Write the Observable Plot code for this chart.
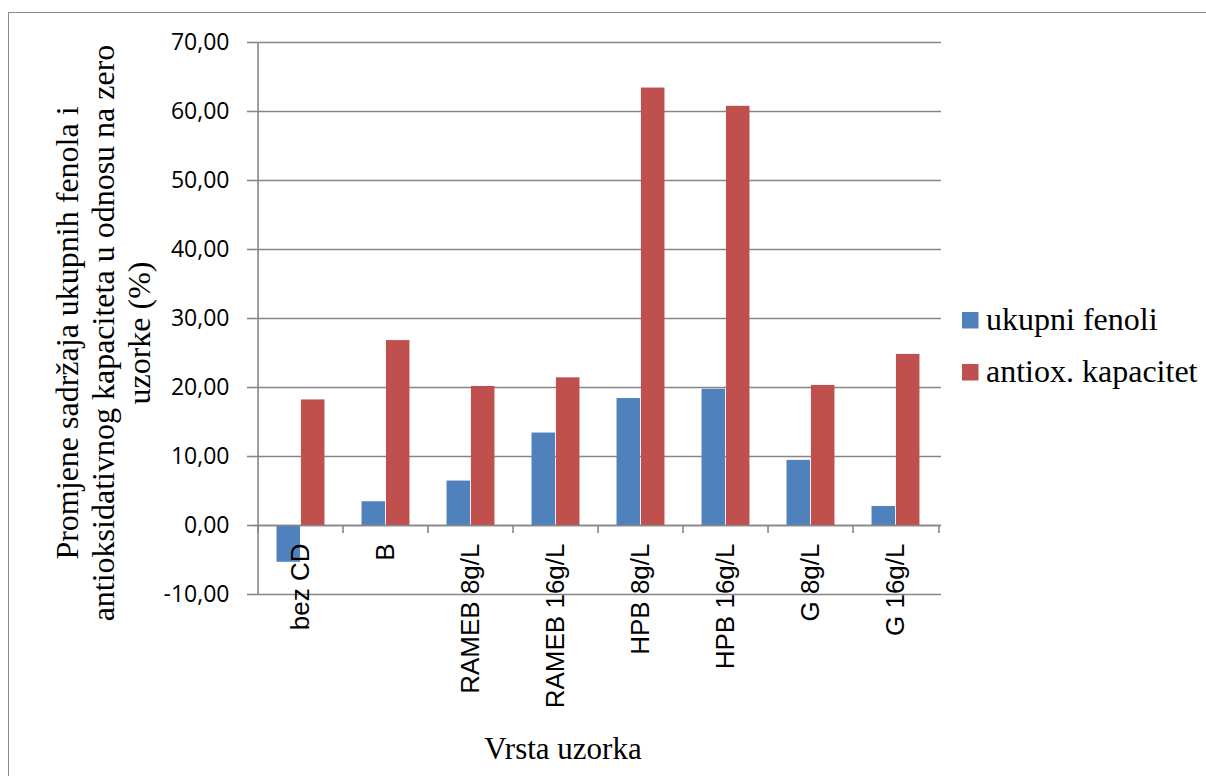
<!DOCTYPE html>
<html>
<head>
<meta charset="utf-8">
<script src="https://cdn.jsdelivr.net/npm/d3@7"></script>
<script src="https://cdn.jsdelivr.net/npm/@observablehq/plot@0.6"></script>
<style>
  html, body { margin: 0; padding: 0; background: #fff; }
  #wrap { position: relative; width: 1206px; height: 776px; overflow: hidden; }
  #border { position: absolute; left: 8px; top: 12px; width: 1300px; height: 900px;
            border-top: 1.5px solid #8a8a8a; border-left: 1.5px solid #8a8a8a; box-sizing: border-box; }
  #chart { position: absolute; left: 0; top: 0; }
  svg text.serif { font-family: "Liberation Serif", "Times New Roman", serif !important; }
</style>
</head>
<body>
<div id="wrap"><div id="border"></div><div id="chart"></div></div>
<script>
const categories = ["bez CD", "B", "RAMEB 8g/L", "RAMEB 16g/L", "HPB 8g/L", "HPB 16g/L", "G 8g/L", "G 16g/L"];
const fenoli = [-5.33, 3.44, 6.44, 13.4, 18.4, 19.75, 9.44, 2.76];
const antiox = [18.2, 26.8, 20.15, 21.4, 63.4, 60.75, 20.3, 24.8];
const yTicks = [-10, 0, 10, 20, 30, 40, 50, 60, 70];
const seriesNames = ["ukupni fenoli", "antiox. kapacitet"];
const seriesColors = ["#4F81BD", "#C0504D"];
const yTitleLines = ["Promjene sadržaja ukupnih fenola i", "antioksidativnog kapaciteta u odnosu na zero", "uzorke (%)"];
const xTitle = "Vrsta uzorka";

const W = 1206, H = 776;
const ml = 254, mr = 265, mt = 42, mb = 182;
const bw = (W - ml - mr) / categories.length;
const barW = 24.4;
const gridColor = "#868686";

const rows = categories.map((c, i) => ({cat: c, f: fenoli[i], a: antiox[i]}));
const fmt = d => d.toFixed(2).replace(".", ",");

const plot = Plot.plot({
  width: W, height: H,
  marginLeft: ml, marginRight: mr, marginTop: mt, marginBottom: mb,
  style: {fontFamily: "Open Sans", fontSize: "23px", background: "transparent", overflow: "visible"},
  x: {type: "band", domain: categories, padding: 0, axis: null},
  y: {domain: [-10, 70], axis: null},
  marks: [
    Plot.ruleY(yTicks, {stroke: gridColor, strokeWidth: 1.6}),
    Plot.axisY({ticks: yTicks, tickFormat: fmt, tickSize: 7, tickPadding: 18, stroke: gridColor,
                strokeWidth: 1.6, fill: "black", fontSize: 23, fontFamily: "Open Sans", label: null}),
    Plot.ruleX([categories[0]], {dx: -bw / 2, y1: -10, y2: 70, stroke: gridColor, strokeWidth: 1.6}),
    Plot.barY(rows, {x: "cat", y1: 0, y2: "f", fill: seriesColors[0], insetLeft: bw / 2 - barW, insetRight: bw / 2}),
    Plot.barY(rows, {x: "cat", y1: 0, y2: "a", fill: seriesColors[1], insetLeft: bw / 2, insetRight: bw / 2 - barW}),
    Plot.ruleY([0], {stroke: gridColor, strokeWidth: 1.6}),
    Plot.ruleX(categories, {x: d => d, dx: -bw / 2, y1: 0, y2: -1.15, stroke: gridColor, strokeWidth: 1.6}),
    Plot.ruleX([categories[categories.length - 1]], {dx: bw / 2, y1: 0, y2: -1.15, stroke: gridColor, strokeWidth: 1.6}),
    Plot.text(categories, {x: d => d, y: 0, text: d => d, rotate: -90, textAnchor: "end", dy: 18,
                           fontSize: 26, fontFamily: "Liberation Sans", fill: "black"})
  ]
});

document.getElementById("chart").appendChild(plot);

const svg = d3.select(plot);
const serif = "'Liberation Serif', 'Times New Roman', serif";
// y-axis title (three rotated lines)
const yBase = [78, 114, 150];
yTitleLines.forEach((t, i) => {
  svg.append("text")
    .attr("class", "serif")
    .attr("transform", `translate(${yBase[i]},333) rotate(-90)`)
    .attr("text-anchor", "middle")
    .attr("font-family", serif)
    .attr("font-size", 32)
    .attr("fill", "black")
    .text(t);
});
// x-axis title
svg.append("text")
  .attr("class", "serif")
  .attr("x", 563).attr("y", 759)
  .attr("text-anchor", "middle")
  .attr("font-family", serif)
  .attr("font-size", 31)
  .attr("fill", "black")
  .text(xTitle);
// legend
const legY = [312, 364];
seriesNames.forEach((s, i) => {
  svg.append("rect").attr("x", 962).attr("y", legY[i]).attr("width", 16.5).attr("height", 16.5).attr("fill", seriesColors[i]);
  svg.append("text").attr("class", "serif").attr("x", 986).attr("y", legY[i] + 18)
    .attr("text-anchor", "start")
    .attr("font-family", serif).attr("font-size", 32).attr("fill", "black").text(s);
});
</script>
</body>
</html>
